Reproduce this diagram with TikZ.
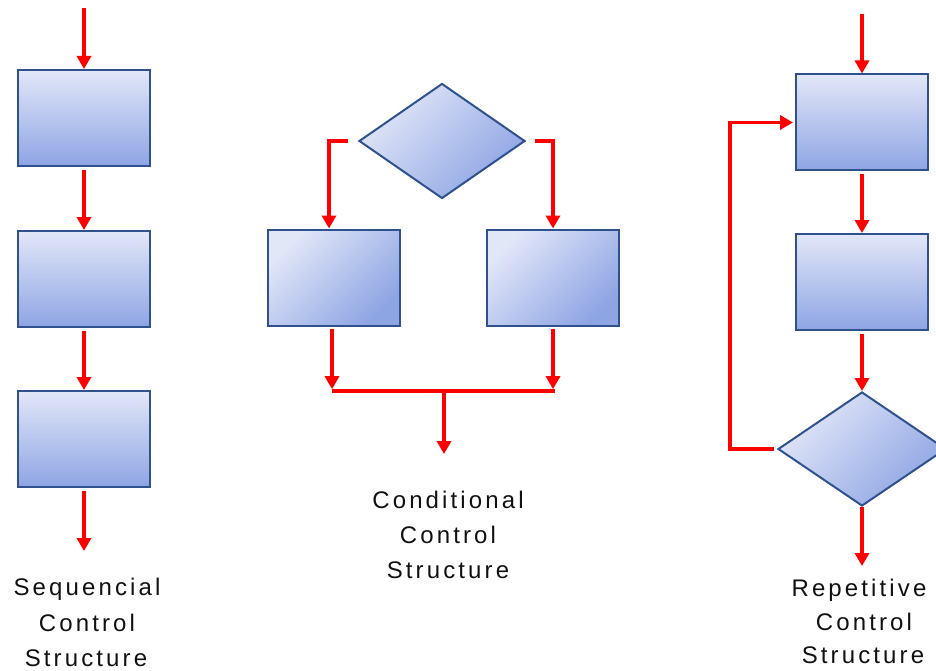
\documentclass[tikz,border=0pt]{standalone}
\usepackage{fontspec}
\usetikzlibrary{arrows.meta,shapes.geometric,calc}
\newfontfamily\lblfont[LetterSpace=13]{Liberation Sans}
\definecolor{edgeblue}{HTML}{2F528F}
\definecolor{lightfill}{HTML}{E2E7F8}
\definecolor{darkfill}{HTML}{8EA5E4}
\definecolor{arrred}{HTML}{FF0000}
\definecolor{txt}{HTML}{111111}
\tikzset{
  vbox/.style={draw=edgeblue, line width=2pt, top color=lightfill, bottom color=darkfill,
    minimum width=132pt, minimum height=96pt, inner sep=0pt},
  dbox/.style={vbox, shading angle=45},
  dia/.style={diamond, draw=edgeblue, line width=2pt, top color=lightfill, bottom color=darkfill,
    shading angle=45, inner sep=0pt, minimum width=166pt, minimum height=115pt},
  arr/.style={draw=arrred, line width=3.6pt, -{Triangle[width=14pt,length=13pt]}},
  redline/.style={draw=arrred, line width=3.6pt},
  lbl/.style={font=\lblfont\fontsize{24}{28}\selectfont, text=txt, anchor=base, inner sep=0pt}
}
\begin{document}
\begin{tikzpicture}[x=1pt,y=-1pt]
\useasboundingbox (0,0) rectangle (936,671);
\clip (0,0) rectangle (936,671);
% ---------- Sequential ----------
\node[vbox] (L1) at (84,118) {};
\node[vbox] (L2) at (84,279) {};
\node[vbox] (L3) at (84,439) {};
\coordinate (Lin) at (84,8);
\coordinate (Lout) at (84,551);
\draw[arr] (Lin) -- (L1.north);
\draw[arr, shorten <=3pt] (L1.south) -- (L2.north);
\draw[arr, shorten <=3pt] (L2.south) -- (L3.north);
\draw[arr, shorten <=3pt] (L3.south) -- (Lout);
\node[lbl] (t1) at (87,595) {Sequencial};
\node[lbl] (t2) at (87,631) {Control};
\node[lbl] (t3) at (86,666) {Structure};
% ---------- Conditional ----------
\node[dia] (D) at (442,141) {};
\node[dbox] (M1) at (334,277.5) {};
\node[dbox] (M2) at (553,277.5) {};
\draw[arr, shorten <=10pt] (D.west) -| ($(M1.north)+(-5,0)$);
\draw[arr, shorten <=9pt] (D.east) -| (M2.north);
\coordinate (J1) at (332,391);
\coordinate (J2) at (555,391);
\coordinate (Jm) at (444,391);
\coordinate (Mout) at (444,454);
\draw[arr, shorten <=2pt] ($(M1.south)+(-2,0)$) -- ($(J1)+(0,-1.8)$);
\draw[arr, shorten <=2pt] (M2.south) -- ($(J2)+(-2,-1.8)$);
\draw[redline] (J1) -- (J2);
\draw[arr] (Jm) -- (Mout);
\node[lbl] (c1) at (448,508) {Conditional};
\node[lbl] (c2) at (448,543) {Control};
\node[lbl] (c3) at (448,578) {Structure};
% ---------- Repetitive ----------
\node[vbox] (R1) at (862,122.5) {};
\node[vbox] (R2) at (862,282) {};
\node[dia, minimum width=168pt, minimum height=114pt] (RD) at (862,449) {};
\coordinate (Rin) at (862,14);
\coordinate (Rout) at (862,566);
\draw[arr] (Rin) -- (R1.north);
\draw[arr, shorten <=3pt] (R1.south) -- (R2.north);
\draw[arr, shorten <=3pt] (R2.south) -- (RD.north);
\draw[arr] (RD.south) -- (Rout);
\draw[arr, shorten <=3pt, shorten >=2pt] (RD.west) -- ++(-47,0) |- (R1.west);
\node[lbl] (r1) at (859,596) {Repetitive};
\node[lbl] (r2) at (864,630) {Control};
\node[lbl] (r3) at (863,663) {Structure};
\end{tikzpicture}
\end{document}
